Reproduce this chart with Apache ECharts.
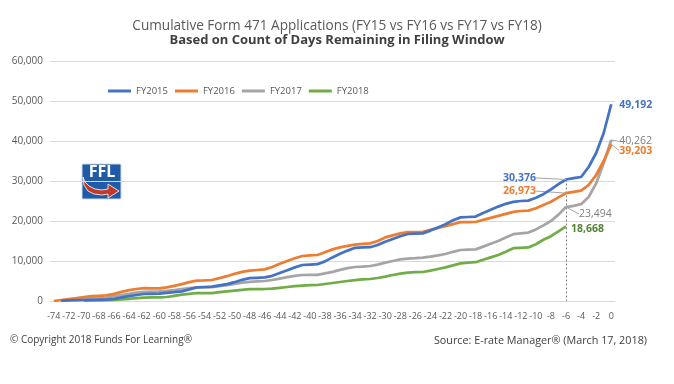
<!DOCTYPE html>
<html><head><meta charset="utf-8">
<script src="https://cdn.jsdelivr.net/npm/echarts@6/dist/echarts.min.js"></script>
<style>html,body{margin:0;padding:0;background:#fff}#c{width:674px;height:384px}</style>
</head><body><div id="c"></div>
<script>
const days = ['-74','-73','-72','-71','-70','-69','-68','-67','-66','-65','-64','-63','-62','-61','-60','-59','-58','-57','-56','-55','-54','-53','-52','-51','-50','-49','-48','-47','-46','-45','-44','-43','-42','-41','-40','-39','-38','-37','-36','-35','-34','-33','-32','-31','-30','-29','-28','-27','-26','-25','-24','-23','-22','-21','-20','-19','-18','-17','-16','-15','-14','-13','-12','-11','-10','-9','-8','-7','-6','-5','-4','-3','-2','-1','0'];

const fy2015 = [null,100,150,200,250,300,320,350,550,900,1200,1500,1750,1800,1850,2050,2200,2400,2900,3400,3500,3600,3900,4200,4700,5300,5700,5800,5900,6300,7000,7700,8400,9000,9100,9200,9900,10900,11800,12600,13300,13400,13450,14000,14800,15500,16200,16750,16850,16900,17600,18400,19200,20200,20900,21000,21100,22000,22800,23600,24300,24800,25000,25100,25800,26700,27900,29200,30376,30700,31000,33500,37000,42000,49192];

const fy2016 = [0,250,500,700,1000,1200,1300,1400,1800,2300,2700,3000,3200,3150,3150,3400,3800,4200,4700,5100,5150,5250,5700,6200,6800,7300,7600,7750,7900,8500,9300,10000,10700,11250,11400,11500,12200,12900,13400,13800,14100,14300,14400,15000,15900,16400,16900,17250,17250,17300,17800,18300,18700,19200,19700,19700,19750,20300,20800,21300,21800,22300,22500,22600,23200,24000,24800,25900,26973,27300,27600,29000,31500,35000,39203];

const fy2017 = [null,50,300,500,600,700,750,800,1200,1500,1800,2100,2300,2350,2400,2550,2750,3000,3200,3400,3400,3450,3700,3950,4300,4600,4800,4900,5000,5250,5600,5950,6300,6500,6550,6550,6900,7300,7800,8200,8500,8600,8750,9100,9600,10000,10400,10600,10700,10850,11100,11400,11750,12300,12750,12850,12900,13600,14300,15000,15900,16700,16900,17100,17900,18900,20000,21600,23494,23800,24200,26000,29400,34500,40262];

const fy2018 = [null,null,null,null,100,150,180,200,250,400,550,700,850,900,900,1000,1300,1600,1800,2000,1950,1950,2200,2400,2600,2800,2950,3000,3000,3100,3300,3500,3700,3850,3950,4000,4250,4500,4750,5000,5200,5400,5500,5750,6100,6500,6850,7100,7200,7250,7600,8000,8400,8900,9400,9600,9700,10300,10900,11500,12300,13200,13300,13400,14200,15300,16200,17400,18668,null,null,null,null,null,null];

const seriesNames = ['FY2015','FY2016','FY2017','FY2018'];
const colors = ['#4472C4','#ED7D31','#A5A5A5','#70AD47'];
const labelColors = ['#4472C4','#ED7D31','#7F7F7F','#548235'];

const FONT = "'Open Sans', sans-serif";

// label specs: [series, dataIndex, position, distance, dx, dy, bold, leader]
const labelSpecs = [
  [0, 68, 'left', 5, -25, -1.5, true, true],
  [1, 68, 'left', 5, -25, -2, true, true],
  [2, 68, 'right', 5, 8, 7, false, true],
  [3, 68, 'right', 5, 0, 2.5, true, false],
  [0, 74, 'right', 8, 0, 1, true, false],
  [2, 74, 'right', 3, 5, 1.5, false, true],
  [1, 74, 'right', 3, 5, 6.5, true, true]
];

function buildData(values, si) {
  return values.map((v, i) => {
    const spec = labelSpecs.find(s => s[0] === si && s[1] === i);
    if (!spec || v == null) return v;
    return {
      value: v,
      label: {
        show: true, position: spec[2], distance: spec[3],
        color: labelColors[si], fontWeight: spec[6] ? 'bold' : 'normal',
        fontSize: 10.5, fontFamily: FONT,
        formatter: p => Number(p.value).toLocaleString('en-US')
      },
      labelLine: { show: spec[7], lineStyle: { color: '#A5A5A5', width: 1 } }
    };
  });
}

function layoutFor(si) {
  return function (params) {
    const spec = labelSpecs.find(s => s[0] === si && s[1] === params.dataIndex);
    if (!spec) return {};
    return { dx: spec[4], dy: spec[5] };
  };
}

const allValues = [fy2015, fy2016, fy2017, fy2018];

const series = allValues.map((vals, si) => {
  const s = {
    name: seriesNames[si], type: 'line', data: buildData(vals, si),
    symbol: 'circle', symbolSize: 0.01, showSymbol: true, showAllSymbol: true,
    lineStyle: { width: 2.75, color: colors[si] },
    itemStyle: { color: colors[si] },
    labelLayout: layoutFor(si),
    z: 10 - si
  };
  if (si === 0) {
    s.markLine = {
      silent: true, symbol: 'none',
      lineStyle: { type: [2, 2], color: '#7F7F7F', width: 1 },
      label: { show: false },
      data: [[{ coord: [days[68], fy2015[68]] }, { coord: [days[68], 0] }]]
    };
  }
  return s;
});

const chart = echarts.init(document.getElementById('c'), null, { renderer: 'canvas' });
chart.setOption({
  animation: false,
  backgroundColor: '#fff',
  title: [
    { text: 'Cumulative Form 471 Applications (FY15 vs FY16 vs FY17 vs FY18)', left: 'center', top: 14,
      textStyle: { fontFamily: FONT, fontSize: 13.6, fontWeight: 'normal', color: '#595959' } },
    { text: 'Based on Count of Days Remaining in Filing Window', left: 'center', top: 29,
      textStyle: { fontFamily: FONT, fontSize: 13, fontWeight: 'bold', color: '#404040' } }
  ],
  legend: {
    data: seriesNames, left: 103, top: 81, icon: 'rect', itemWidth: 23, itemHeight: 3, itemGap: 7,
    textStyle: { fontFamily: FONT, fontSize: 9.5, color: '#595959' }
  },
  grid: { left: 50, right: 59, top: 61, bottom: 83 },
  xAxis: {
    type: 'category', data: days, boundaryGap: true,
    axisTick: { show: false },
    axisLine: { lineStyle: { color: '#D9D9D9' } },
    axisLabel: { interval: 1, margin: 11, fontFamily: FONT, fontSize: 9, color: '#595959' }
  },
  yAxis: {
    type: 'value', min: 0, max: 60000, interval: 10000,
    axisLine: { show: false }, axisTick: { show: false },
    splitLine: { lineStyle: { color: '#D9D9D9', width: 1 } },
    axisLabel: { margin: 7, fontFamily: FONT, fontSize: 10, color: '#595959',
      formatter: v => v.toLocaleString('en-US') }
  },
  series: series,
  graphic: [
    { type: 'group', x: 82, y: 164, children: [
      { type: 'rect', shape: { x: 0, y: 0, width: 39, height: 35, r: 1 }, style: { fill: '#1F5BA6', stroke: '#D0D8E8', lineWidth: 1 } },
      { type: 'text', x: 20, y: 0, style: { text: 'FFL', fill: '#fff', font: 'bold 16px "Open Sans", sans-serif', align: 'center' } },
      { type: 'polygon', shape: { points: [[1,13],[3,18],[7,22],[13,25],[20,26],[26,25],[26,20],[37,27],[26,34],[26,30],[20,31],[12,30],[6,27],[2,21]] },
        style: { fill: '#C0392B', stroke: '#fff', lineWidth: 0.8 } }
    ] },
    { type: 'text', left: 10, top: 335, style: { text: '© Copyright 2018 Funds For Learning®', fill: '#404040', font: '10px "Open Sans", sans-serif' } },
    { type: 'text', right: 27, top: 335, style: { text: 'Source: E-rate Manager® (March 17, 2018)', fill: '#404040', font: '10.8px "Open Sans", sans-serif' } }
  ]
});
</script>
</body></html>
